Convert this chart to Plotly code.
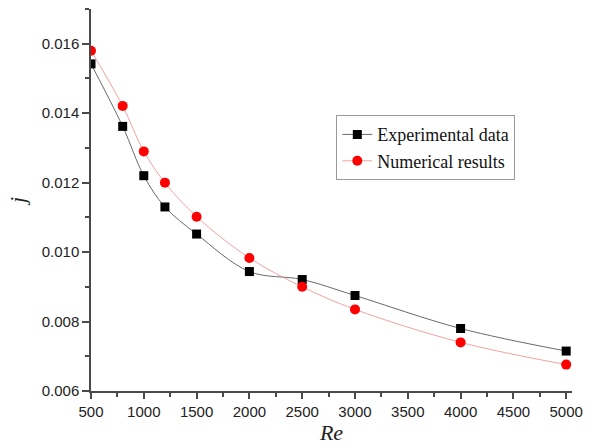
import plotly.graph_objects as go

re_vals = [500, 800, 1000, 1200, 1500, 2000, 2500, 3000, 4000, 5000]
j_exp = [0.01542, 0.01362, 0.0122, 0.01130, 0.01052, 0.00944, 0.00921, 0.00875, 0.00780, 0.00715]
j_num = [0.01580, 0.01421, 0.01290, 0.01200, 0.01102, 0.00983, 0.00900, 0.00835, 0.00740, 0.00676]

x_ticks = [500, 1000, 1500, 2000, 2500, 3000, 3500, 4000, 4500, 5000]
y_ticks = [0.006, 0.008, 0.010, 0.012, 0.014, 0.016]

fig = go.Figure()
fig.add_trace(go.Scatter(
    x=re_vals, y=j_exp, name="Experimental data", mode="lines+markers",
    line=dict(color="#6a6a6a", width=1, shape="spline"),
    marker=dict(symbol="square", size=9, color="black"),
))
fig.add_trace(go.Scatter(
    x=re_vals, y=j_num, name="Numerical results", mode="lines+markers",
    line=dict(color="#f08a8a", width=0.8, shape="spline"),
    marker=dict(symbol="circle", size=10, color="#ff0000"),
))

axis_common = dict(
    showline=True, linecolor="#4a4a4a", linewidth=1.5,
    ticks="outside", tickcolor="#4a4a4a", tickwidth=1.5,
    showgrid=False, zeroline=False, mirror=False,
    tickfont=dict(family="Liberation Sans, Arial", size=15, color="#222222"),
)

fig.update_xaxes(
    range=[500, 5055], tickvals=x_ticks, ticklen=6,
    minor=dict(ticks="outside", dtick=250, ticklen=4, tickcolor="#4a4a4a", tickwidth=1.5),
    title=dict(text="<i>Re</i>", font=dict(family="Liberation Serif, Times New Roman", size=22, color="#222222"), standoff=4),
    **axis_common,
)
fig.update_yaxes(
    range=[0.006, 0.017], tickvals=y_ticks, tickformat=".3f", ticklen=7,
    minor=dict(ticks="outside", dtick=0.001, ticklen=4, tickcolor="#4a4a4a", tickwidth=1.5),
    title=dict(text="<i>j</i>", font=dict(family="Liberation Serif, Times New Roman", size=22, color="#222222"), standoff=10),
    **axis_common,
)

fig.update_layout(
    width=614, height=448,
    margin=dict(l=91, r=42, t=9, b=55),
    plot_bgcolor="white", paper_bgcolor="white",
    legend=dict(
        x=0.51, y=0.722, xanchor="left", yanchor="top",
        bordercolor="#999999", borderwidth=1, bgcolor="white",
        font=dict(family="Liberation Serif, Times New Roman", size=18, color="#111111"),
        tracegroupgap=0, itemwidth=30,
    ),
)

fig.write_html("out.html")
